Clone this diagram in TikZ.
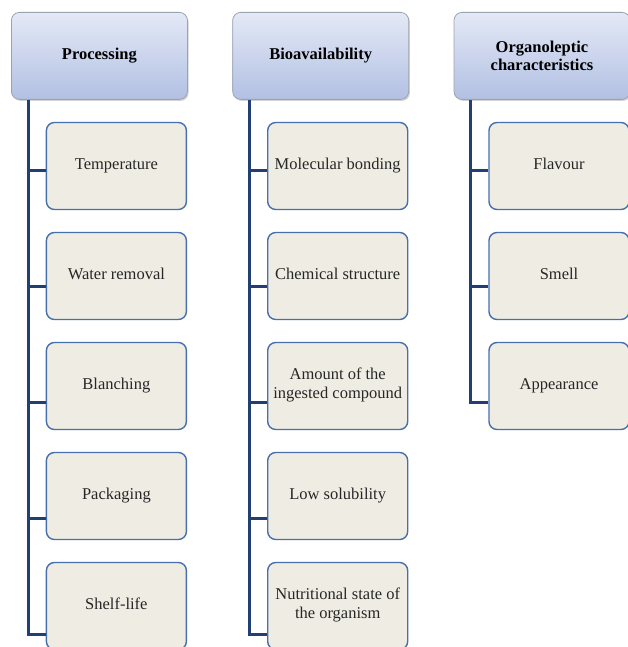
\documentclass[tikz,border=0pt]{standalone}
\usepackage{fontspec}
\setmainfont{Liberation Serif}
\usepackage{xcolor}
\usetikzlibrary{positioning,shadows}

\definecolor{headtop}{HTML}{E4E9F6}
\definecolor{headbot}{HTML}{B2C0E3}
\definecolor{headline}{HTML}{9CA3AE}
\definecolor{itemfill}{HTML}{EFEDE3}
\definecolor{itemline}{HTML}{4670AC}
\definecolor{spinecol}{HTML}{213F74}

\begin{document}
\begin{tikzpicture}[
x=1pt, y=1pt,
node distance=21.6pt and 44.5pt,
font=\fontsize{16.5}{18.5}\selectfont,
head/.style={rectangle, draw=headline, line width=0.8pt, top color=headtop, bottom color=headbot, minimum width=176pt, minimum height=87pt, align=center, rounded corners=8pt, font=\fontsize{16.5}{18.5}\selectfont\bfseries, drop shadow={opacity=0.35, shadow xshift=1.2pt, shadow yshift=-1.5pt}},
item/.style={rectangle, draw=itemline, line width=1.4pt, fill=itemfill, minimum width=140pt, minimum height=87pt, align=center, rounded corners=8pt, inner sep=2pt, text=black!85, execute at begin node=\strut, execute at end node=\strut},
link/.style={spinecol, line width=3pt}
]
\useasboundingbox (0,0) rectangle (627,-647);

% --- HEADERS ---
\node[head, anchor=north west] (proc) at (11,-12) {Processing};
\node[head, right=of proc] (bio) {Bioavailability};
\node[head, right=of bio] (org) {Organoleptic\\characteristics};

% --- PROCESSING ---
\node[item, below=22pt of proc, xshift=17pt] (temp) {Temperature};
\node[item, below=of temp] (water) {Water removal};
\node[item, below=of water] (blanch) {Blanching};
\node[item, below=of blanch] (pack) {Packaging};
\node[item, below=of pack] (shelf) {Shelf-life};

% --- BIOAVAILABILITY ---
\node[item, below=22pt of bio, xshift=17pt] (molec) {Molecular bonding};
\node[item, below=of molec] (chem) {Chemical structure};
\node[item, below=of chem] (amount) {Amount of the\\ingested compound};
\node[item, below=of amount] (lowsol) {Low solubility};
\node[item, below=of lowsol] (nutri) {Nutritional state of\\the organism};

% --- ORGANOLEPTIC ---
\node[item, below=22pt of org, xshift=17pt] (flav) {Flavour};
\node[item, below=of flav] (smell) {Smell};
\node[item, below=of smell] (appear) {Appearance};

% --- CONNECTORS ---
\foreach \itm/\off in {temp/4.5, water/10.5, blanch/16.5, pack/22.5, shelf/28.5}
  \draw[link] ([yshift=-\off pt]\itm.west) -| ([xshift=17pt]proc.south west);
\foreach \itm/\off in {molec/4.5, chem/10.5, amount/16.5, lowsol/22.5, nutri/28.5}
  \draw[link] ([yshift=-\off pt]\itm.west) -| ([xshift=17pt]bio.south west);
\foreach \itm/\off in {flav/4.5, smell/10.5, appear/16.5}
  \draw[link] ([yshift=-\off pt]\itm.west) -| ([xshift=17pt]org.south west);

\end{tikzpicture}
\end{document}
